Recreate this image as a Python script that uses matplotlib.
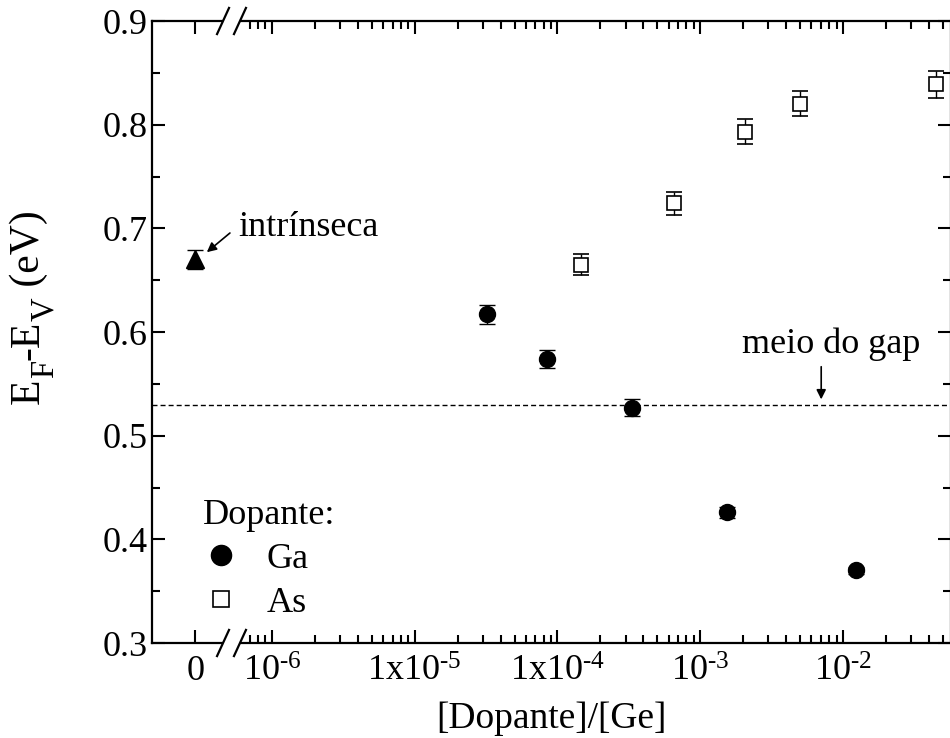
import matplotlib
matplotlib.use('Agg')
import matplotlib.pyplot as plt
from matplotlib.lines import Line2D

plt.rcParams['font.family'] = ['Liberation Serif', 'DejaVu Serif']
plt.rcParams['mathtext.fontset'] = 'custom'
plt.rcParams['mathtext.rm'] = 'Liberation Serif'
plt.rcParams['mathtext.it'] = 'Liberation Serif:italic'
plt.rcParams['mathtext.default'] = 'rm'

# data
x_zero = 2.9e-7   # where the "0" (intrinsic) sits on the log axis
intr_y = [0.670]
intr_err = [0.009]

ga_x = [3.2e-5, 8.4e-5, 3.3e-4, 1.55e-3, 1.24e-2]
ga_y = [0.617, 0.574, 0.527, 0.426, 0.370]
ga_err = [0.009, 0.009, 0.008, 0.005, 0.003]

as_x = [1.45e-4, 6.5e-4, 2.05e-3, 5.0e-3, 4.5e-2]
as_y = [0.665, 0.724, 0.793, 0.820, 0.839]
as_err = [0.010, 0.011, 0.012, 0.012, 0.013]

midgap = 0.530

xtick_vals = [x_zero, 1e-6, 1e-5, 1e-4, 1e-3, 1e-2]
xtick_labels = ['0', r'10$^{\text{-6}}$', r'1x10$^{\text{-5}}$', r'1x10$^{\text{-4}}$',
                r'10$^{\text{-3}}$', r'10$^{\text{-2}}$']
ytick_vals = [0.3, 0.4, 0.5, 0.6, 0.7, 0.8, 0.9]

W, H = 950, 738
fig = plt.figure(figsize=(W/100, H/100), dpi=100)
ax = fig.add_axes([152/W, 1-643/H, (951-152)/W, (643-21)/H])

ax.set_xscale('log')
ax.set_xlim(10**-6.840, 10**-1.244)
ax.set_ylim(0.3, 0.9)

ax.axhline(midgap, color='k', lw=1, dashes=(3.6, 2.2), zorder=1)

ax.errorbar([x_zero], intr_y, yerr=intr_err, fmt='^', color='k', ms=13,
            capsize=6, elinewidth=1, capthick=1, zorder=3)
ax.errorbar(ga_x, ga_y, yerr=ga_err, fmt='o', color='k', ms=11.5,
            capsize=6, elinewidth=1, capthick=1, zorder=3)
ax.errorbar(as_x, as_y, yerr=as_err, fmt='s', mfc='white', mec='k', mew=1.2,
            ecolor='k', ms=9.5, capsize=6, elinewidth=1, capthick=1, zorder=3)

# ticks
ax.set_xticks(xtick_vals)
ax.set_xticklabels(xtick_labels)
minor = [m * 1e-7 for m in (7, 8, 9)]
for e in range(-6, -1):
    for m in range(2, 10):
        v = m * 10.0**e
        if v < 10**-1.244:
            minor.append(v)
ax.set_xticks(minor, minor=True)
ax.set_xticklabels([], minor=True)
ax.set_yticks(ytick_vals)
ax.set_yticklabels(['%.1f' % v for v in ytick_vals])
ax.set_yticks([0.35, 0.45, 0.55, 0.65, 0.75, 0.85], minor=True)

ax.tick_params(which='both', direction='in', top=True, right=True, width=1.5,
               labelsize=26, colors='k')
ax.tick_params(which='major', length=9.5)
ax.tick_params(which='minor', length=6)
ax.tick_params(axis='x', which='major', pad=9)
ax.tick_params(axis='y', which='major', pad=3)
for s in ax.spines.values():
    s.set_linewidth(1.6)

ax.set_xlabel('[Dopante]/[Ge]', fontsize=27, labelpad=9)

# y label built from pieces so the subscripts stay large, as in the original
renderer = fig.canvas.get_renderer()
ypos = 1 - 404/H
pieces = [('E', 30, 0), ('F', 23.5, 14), ('-E', 30, 0), ('V', 23.5, 14), (' (eV)', 30, 0)]
for s, fs, shift in pieces:
    t = fig.text((39 + shift)/W, ypos, s, fontsize=fs, rotation=90,
                 rotation_mode='anchor', ha='left', va='baseline')
    bb = t.get_window_extent(renderer)
    ypos += bb.height / H

# axis break marks
for yb in (0, 1):
    ax.plot([0.0920, 0.1060], [yb, yb], color='white', lw=4,
            transform=ax.transAxes, clip_on=False, zorder=5)
    for xc in (0.0889, 0.1101):
        ax.plot([xc - 0.0075, xc + 0.0075], [yb - 0.021, yb + 0.021],
                color='k', lw=1.6, transform=ax.transAxes, clip_on=False, zorder=6)

# annotations
ax.text(5.78e-7, 0.6926, 'intrínseca', fontsize=26, ha='left', va='baseline')
ax.annotate('', xy=(3.5e-7, 0.677), xytext=(5.08e-7, 0.6955),
            arrowprops=dict(arrowstyle='-|>', color='k', lw=1.2,
                            mutation_scale=14, shrinkA=0, shrinkB=0))
ax.text(8.26e-3, 0.5795, 'meio do gap', fontsize=26, ha='center', va='baseline')
ax.annotate('', xy=(7.03e-3, 0.535), xytext=(7.03e-3, 0.5665),
            arrowprops=dict(arrowstyle='-|>', color='k', lw=1.2,
                            mutation_scale=14, shrinkA=0, shrinkB=0))

# legend
h_ga = Line2D([], [], ls='none', marker='o', color='k', ms=14.5)
h_as = Line2D([], [], ls='none', marker='s', mfc='white', mec='k', mew=1.2, ms=12)
leg = ax.legend([h_ga, h_as], ['Ga', 'As'], title='Dopante:', loc='upper left',
                bbox_to_anchor=(203/W, 1-499/H), bbox_transform=fig.transFigure,
                frameon=False, fontsize=26, title_fontsize=26, alignment='left',
                handlelength=1.0, handletextpad=0.75, labelspacing=0.29,
                borderpad=0, borderaxespad=0)

fig.savefig('out.png', dpi=100)
